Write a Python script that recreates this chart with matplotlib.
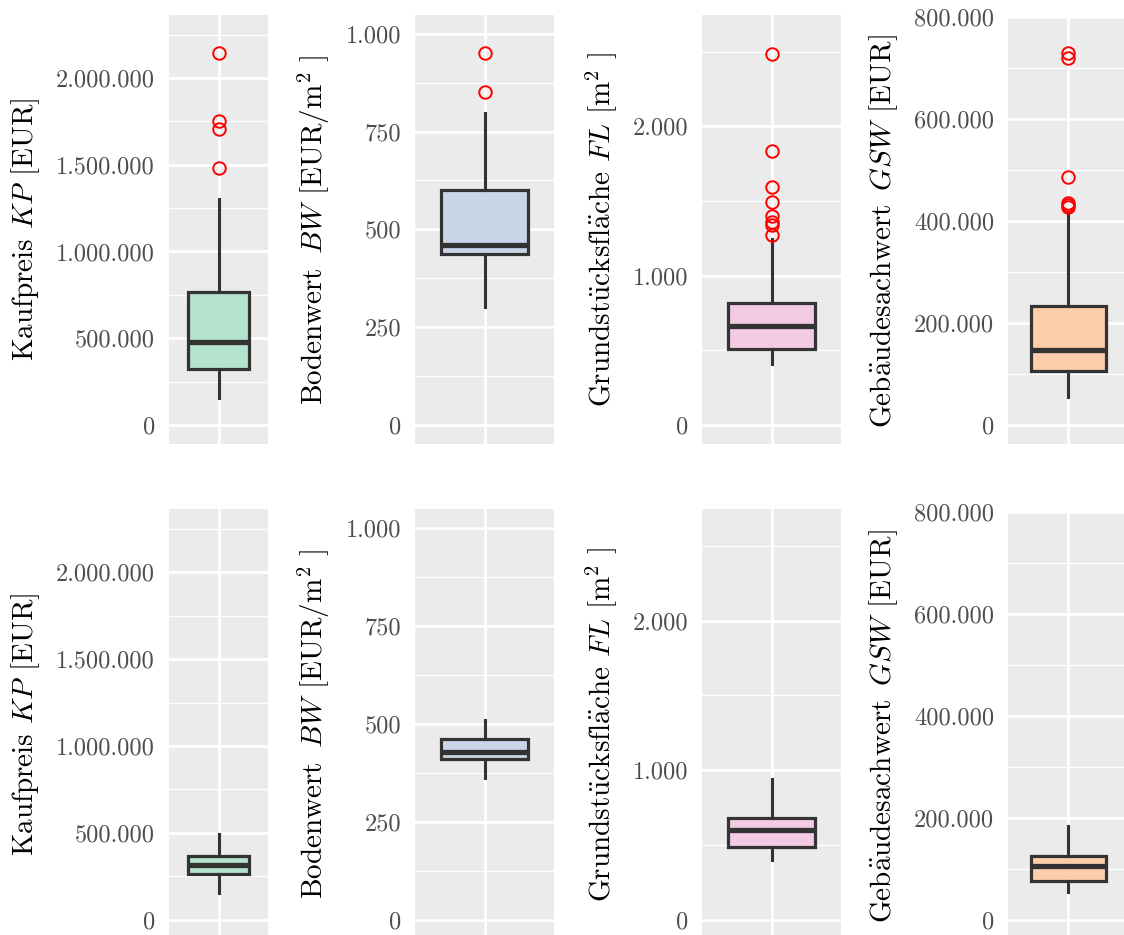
import numpy as np
import matplotlib
matplotlib.use('Agg')
import matplotlib.pyplot as plt
from matplotlib.ticker import FuncFormatter, MultipleLocator

plt.rcParams['font.family'] = 'cmr10'
plt.rcParams['mathtext.fontset'] = 'cm'
plt.rcParams['axes.unicode_minus'] = False

# five-number summaries: whisker low, Q1, median, Q3, whisker high
kp_all = [154e3, 323e3, 477e3, 765e3, 1303e3]
kp_all_out = [1483e3, 1706e3, 1754e3, 2144e3]
bw_all = [302, 438, 459, 600, 798]
bw_all_out = [850, 950]
fl_all = [407, 506, 661, 813, 1247]
fl_all_out = [1274, 1336, 1360, 1396, 1496, 1592, 1837, 2487]
gsw_all = [55.5e3, 106e3, 147e3, 234e3, 417e3]
gsw_all_out = [428e3, 432e3, 436e3, 487e3, 721e3, 729e3]

kp_sel = [155e3, 263e3, 317e3, 368e3, 496e3]
bw_sel = [362, 409, 428, 460, 509]
fl_sel = [403, 488, 600, 682, 940]
gsw_sel = [55e3, 77e3, 106e3, 126e3, 184e3]

labels = [r'Kaufpreis $KP$ [EUR]',
          r'Bodenwert $\,BW$ [EUR/m$^2$ ]',
          r'Grundst$\ddot{\mathrm{u}}$cksfl$\ddot{\mathrm{a}}$che $FL$ [m$^2$ ]',
          r'Geb$\ddot{\mathrm{a}}$udesachwert $\,GSW$ [EUR]']
fills = ['#B3E2CD', '#CBD5E8', '#F4CAE4', '#FDCDAC']
ylims = [(-110e3, 2363e3), (-49, 1048), (-128, 2745), (-37e3, 800e3)]
major = [500e3, 250, 1000, 200e3]

top_row = [(kp_all, kp_all_out), (bw_all, bw_all_out),
           (fl_all, fl_all_out), (gsw_all, gsw_all_out)]
bottom_row = [(kp_sel, []), (bw_sel, []), (fl_sel, []), (gsw_sel, [])]

W, H = 1124, 935
fig = plt.figure(figsize=(W / 100, H / 100), dpi=100)

# panel placement in pixels (left, right)
cols = [(169, 268), (415, 554), (702, 841), (1008, 1128)]
rows = [[(15, 444), (15, 444), (15, 444), (17.3, 444)],
        [(509, 939), (509, 939), (509, 939), (512.3, 939)]]

fmt = FuncFormatter(lambda v, p: f'{v:,.0f}'.replace(',', '.'))

for r, data in enumerate([top_row, bottom_row]):
    for c, (s, out) in enumerate(data):
        x0, x1 = cols[c]
        y0, y1 = rows[r][c]
        ax = fig.add_axes([x0 / W, 1 - y1 / H, (x1 - x0) / W, (y1 - y0) / H])
        ax.set_facecolor('#EBEBEB')
        stats = [dict(whislo=s[0], q1=s[1], med=s[2], q3=s[3], whishi=s[4],
                      fliers=out)]
        ax.bxp(stats, positions=[1], widths=0.75, patch_artist=True,
               showcaps=False,
               boxprops=dict(facecolor=fills[c], edgecolor='#333333',
                             linewidth=2.3, joinstyle='miter'),
               medianprops=dict(color='#333333', linewidth=3.8,
                                solid_capstyle='butt'),
               whiskerprops=dict(color='#333333', linewidth=2.2),
               flierprops=dict(marker='o', markerfacecolor='none',
                               markeredgecolor='red', markersize=9,
                               markeredgewidth=1.4))
        ax.set_xlim(0.4, 1.6)
        ax.set_ylim(*ylims[c])
        ax.yaxis.set_major_locator(MultipleLocator(major[c]))
        ax.yaxis.set_minor_locator(MultipleLocator(major[c] / 2))
        ax.yaxis.set_major_formatter(fmt)
        ax.set_xticks([1])
        ax.set_xticklabels([])
        ax.set_axisbelow(True)
        ax.grid(True, which='major', color='white', linewidth=1.9)
        ax.grid(True, which='minor', axis='y', color='white', linewidth=0.9)
        ax.tick_params(axis='both', which='both', length=0)
        ax.tick_params(axis='y', pad=10, labelsize=17.5, labelcolor='#4D4D4D')
        for sp in ax.spines.values():
            sp.set_visible(False)
        ax.set_ylabel(labels[c], fontsize=21, labelpad=10)

fig.savefig('out.png', dpi=100)
